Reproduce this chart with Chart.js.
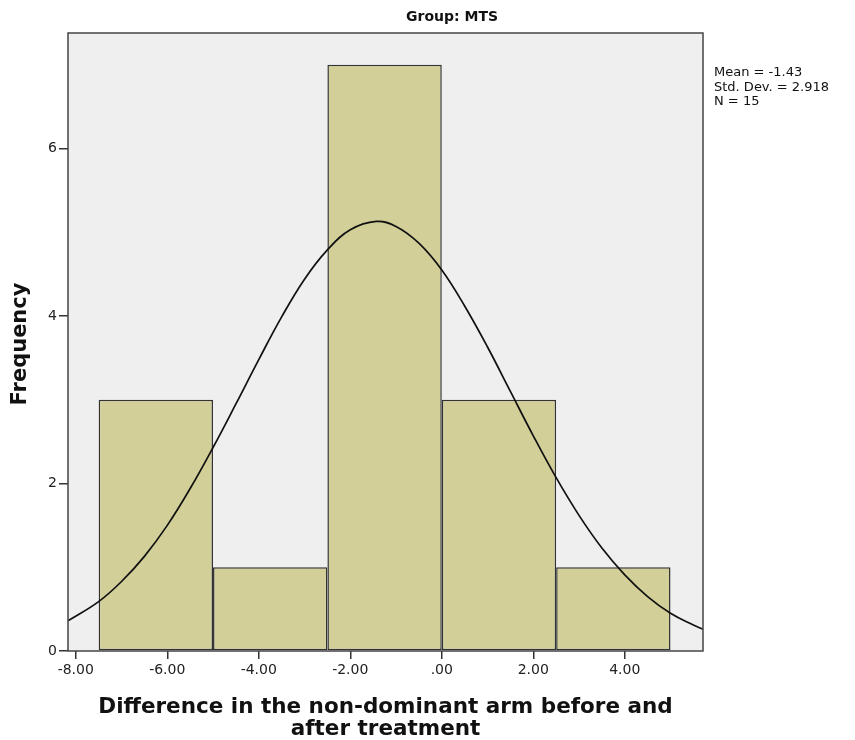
<!DOCTYPE html>
<html>
<head>
<meta charset="utf-8">
<script src="https://cdn.jsdelivr.net/npm/chart.js@4.4.1/dist/chart.umd.min.js"></script>
<style>
  html, body { margin: 0; padding: 0; background: #fff; }
  #wrap { width: 855px; height: 740px; }
</style>
</head>
<body>
<div id="wrap"><canvas id="hist"></canvas></div>
<script>
// histogram bins
const binStarts = [-7.5, -5.0, -2.5, 0.0, 2.5];
const binEnds = [-5.0, -2.5, 0.0, 2.5, 5.0];
const counts = [3, 1, 7, 3, 1];

// normal curve, read at points along the x axis
const curveX = [-8.17, -7.5, -7, -6.5, -6, -5.5, -5, -4.5, -4, -3.5, -3, -2.5, -2, -1.43,
                -1, -0.5, 0, 0.5, 1, 1.5, 2, 2.5, 3, 3.5, 4, 4.5, 5, 5.5, 5.71];
const curveY = [0.36, 0.59, 0.83, 1.13, 1.50, 1.94, 2.43, 2.95, 3.48, 3.99, 4.44, 4.79, 5.03, 5.13,
                5.07, 4.87, 4.55, 4.12, 3.63, 3.10, 2.57, 2.07, 1.62, 1.23, 0.91, 0.65, 0.45, 0.31, 0.26];

const xTicks = [-8, -6, -4, -2, 0, 2, 4];
const yTicks = [0, 2, 4, 6];

const panelTitle = 'Group: MTS';
const statLines = ['Mean = -1.43', 'Std. Dev. = 2.918', 'N = 15'];
const xTitle = ['Difference in the non-dominant arm before and', 'after treatment'];
const yTitle = 'Frequency';

const barData = counts.map((c, i) => ({ x: (binStarts[i] + binEnds[i]) / 2, y: c }));
const curveData = curveX.map((x, i) => ({ x: x, y: curveY[i] }));

// chart.js measures bar room from the tick spacing (2) too, so stretch to the bin width (2.5)
const binWidth = binEnds[0] - binStarts[0];
const tickStep = xTicks[1] - xTicks[0];

const FONT = '"DejaVu Sans", sans-serif';

// grey plot background + frame + texts
const decor = {
    id: 'decor',
    beforeDatasetsDraw(chart) {
        const { ctx, chartArea: a } = chart;
        ctx.save();
        ctx.fillStyle = '#efefef';
        ctx.fillRect(a.left, a.top, a.right - a.left, a.bottom - a.top);
        ctx.restore();
    },
    afterDraw(chart) {
        const { ctx, chartArea: a } = chart;
        ctx.save();
        ctx.strokeStyle = '#444';
        ctx.lineWidth = 1.5;
        ctx.strokeRect(a.left, a.top, a.right - a.left, a.bottom - a.top);

        ctx.fillStyle = '#111';
        ctx.textAlign = 'center';
        ctx.textBaseline = 'middle';
        ctx.font = 'bold 14px ' + FONT;
        ctx.fillText(panelTitle, 452, 17);

        ctx.font = 'bold 21.5px ' + FONT;
        const cx = (a.left + a.right) / 2;
        ctx.fillText(xTitle[0], cx, a.bottom + 56);
        ctx.fillText(xTitle[1], cx, a.bottom + 78);

        ctx.save();
        ctx.translate(21, (a.top + a.bottom) / 2 + 2);
        ctx.rotate(-Math.PI / 2);
        ctx.font = 'bold 21px ' + FONT;
        ctx.fillText(yTitle, 0, 0);
        ctx.restore();

        ctx.textAlign = 'left';
        ctx.font = '13px ' + FONT;
        statLines.forEach((s, i) => ctx.fillText(s, a.right + 11, 73 + i * 14.5));
        ctx.restore();
    }
};

new Chart(document.getElementById('hist'), {
    type: 'bar',
    data: {
        datasets: [{
            type: 'line',
            data: curveData,
            borderColor: '#111',
            borderWidth: 1.7,
            pointRadius: 0,
            tension: 0.4,
            fill: false,
            order: 1
        }, {
            type: 'bar',
            data: barData,
            backgroundColor: '#d3cf99',
            borderColor: '#333',
            borderWidth: 1.5,
            borderSkipped: false,
            barPercentage: binWidth / tickStep,
            categoryPercentage: 1,
            order: 2
        }]
    },
    options: {
        responsive: true,
        maintainAspectRatio: false,
        animation: false,
        layout: { padding: { top: 33, right: 152, left: 0, bottom: 0 } },
        plugins: {
            legend: { display: false },
            tooltip: { enabled: false },
            title: { display: false }
        },
        scales: {
            x: {
                type: 'linear',
                min: -8.17,
                max: 5.71,
                offset: false,
                afterFit: (s) => { s.height = 89; },
                afterBuildTicks: (s) => { s.ticks = xTicks.map(v => ({ value: v })); },
                grid: { display: true, drawOnChartArea: false, drawTicks: true, tickLength: 8, color: '#333', lineWidth: 1.5, offset: false },
                border: { display: false },
                ticks: {
                    padding: 3,
                    color: '#222',
                    font: { family: FONT, size: 14 },
                    autoSkip: false,
                    maxRotation: 0,
                    includeBounds: false,
                    callback: (v) => v === 0 ? '.00' : v.toFixed(2)
                }
            },
            y: {
                type: 'linear',
                min: 0,
                max: 7.38,
                afterFit: (s) => { s.width = 68; },
                afterBuildTicks: (s) => { s.ticks = yTicks.map(v => ({ value: v })); },
                grid: { display: true, drawOnChartArea: false, drawTicks: true, tickLength: 9, color: '#333', lineWidth: 1.5 },
                border: { display: false },
                ticks: {
                    padding: 2,
                    color: '#222',
                    font: { family: FONT, size: 14 },
                    includeBounds: false
                }
            }
        }
    },
    plugins: [decor]
});
</script>
</body>
</html>
